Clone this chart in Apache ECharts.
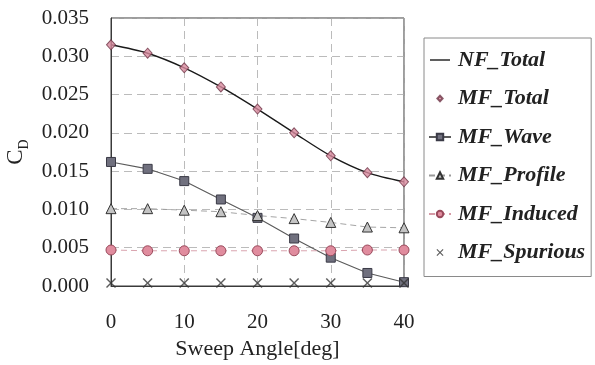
<!DOCTYPE html>
<html>
<head>
<meta charset="utf-8">
<script src="https://cdn.jsdelivr.net/npm/echarts@6/dist/echarts.min.js"></script>
<style>
html,body{margin:0;padding:0;background:#fff;}
#c{width:595px;height:365px;}
</style>
</head>
<body>
<div id="c"></div>
<script>
var sweep = [0, 5, 10, 15, 20, 25, 30, 35, 40];
var nfTotal = [0.0315, 0.0304, 0.0285, 0.0260, 0.0231, 0.0200, 0.0170, 0.0148, 0.0136];
var mfTotal = [0.0315, 0.0304, 0.0285, 0.0260, 0.0231, 0.0200, 0.0170, 0.0148, 0.0136];
var mfWave = [0.0162, 0.0153, 0.0137, 0.0113, 0.0089, 0.0062, 0.0037, 0.0017, 0.0005];
var mfProfile = [0.0101, 0.0101, 0.0099, 0.0097, 0.0092, 0.0088, 0.0083, 0.0077, 0.0076];
var mfInduced = [0.0047, 0.0046, 0.0046, 0.0046, 0.0046, 0.0046, 0.0046, 0.0047, 0.0047];
var mfSpurious = [0.0004, 0.0004, 0.0004, 0.0004, 0.0004, 0.0004, 0.0004, 0.0004, 0.0004];
var seriesNames = ['NF_Total', 'MF_Total', 'MF_Wave', 'MF_Profile', 'MF_Induced', 'MF_Spurious'];
var xTicks = [0, 10, 20, 30, 40];
var yTicks = [0.000, 0.005, 0.010, 0.015, 0.020, 0.025, 0.030, 0.035];

function pairs(ys) { return sweep.map(function (x, i) { return [x, ys[i]]; }); }

var FONT = 'Liberation Serif';
var crossPath = 'path://M0,1 L1,0 L5,4 L9,0 L10,1 L6,5 L10,9 L9,10 L5,6 L1,10 L0,9 L4,5 Z';
// legend icons: a 22x8 box fixed by two moveTo corner points
var BOX = 'M0,0 M22,8 ';
var iconLine = 'path://' + BOX + 'M1,3.3 L21,3.3 L21,4.7 L1,4.7 Z';
var iconDiamond = 'path://' + BOX + 'M11,1.2 L13.6,4 L11,6.8 L8.4,4 Z';
var iconCross = 'path://' + BOX + 'M7.5,1.3 L8.3,0.5 L11,3.2 L13.7,0.5 L14.5,1.3 L11.8,4 L14.5,6.7 L13.7,7.5 L11,4.8 L8.3,7.5 L7.5,6.7 L10.2,4 Z';

var chart = echarts.init(document.getElementById('c'), null, { renderer: 'canvas' });
chart.setOption({
  backgroundColor: '#ffffff',
  animation: false,
  textStyle: { fontFamily: FONT },
  grid: { left: 111, right: 191, top: 18, bottom: 79, show: true, borderColor: '#3a3a3a', borderWidth: 1,
    backgroundColor: 'transparent', outerBoundsMode: 'none', containLabel: false },
  legend: {
    orient: 'vertical',
    left: 424, top: 38,
    width: 170,
    padding: [11, 6, 13, 4],
    itemGap: 16.5,
    itemWidth: 22, itemHeight: 8,
    borderColor: '#8a8a8a', borderWidth: 1,
    data: [
      { name: seriesNames[0], icon: iconLine },
      { name: seriesNames[1], icon: iconDiamond },
      { name: seriesNames[2] },
      { name: seriesNames[3] },
      { name: seriesNames[4] },
      { name: seriesNames[5], icon: iconCross }
    ],
    textStyle: { fontFamily: FONT, fontSize: 22, fontWeight: 'bold', fontStyle: 'italic', color: '#222', padding: [0, 0, 0, 2] }
  },
  xAxis: {
    type: 'value', min: xTicks[0], max: xTicks[xTicks.length - 1], interval: 10,
    name: 'Sweep Angle[deg]', nameLocation: 'middle', nameGap: 52,
    nameTextStyle: { fontFamily: FONT, fontSize: 22, color: '#222' },
    axisLine: { lineStyle: { color: '#3a3a3a', width: 1 } },
    axisTick: { show: false },
    axisLabel: { fontFamily: FONT, fontSize: 21, color: '#222', margin: 26 },
    splitLine: { show: true, lineStyle: { color: '#aaaaaa', type: [8, 5], width: 0.8 } }
  },
  yAxis: {
    type: 'value', min: yTicks[0], max: yTicks[yTicks.length - 1], interval: 0.005,
    name: '{c|C}{d|D}', nameLocation: 'middle', nameGap: 84,
    nameTextStyle: {
      fontFamily: FONT, color: '#222',
      rich: {
        c: { fontFamily: FONT, fontSize: 23, color: '#222', lineHeight: 28, verticalAlign: 'bottom' },
        d: { fontFamily: FONT, fontSize: 14, color: '#222', lineHeight: 28, verticalAlign: 'bottom', padding: [0, 0, -4, 0] }
      }
    },
    axisLine: { lineStyle: { color: '#3a3a3a', width: 1 } },
    axisTick: { show: false },
    axisLabel: { fontFamily: FONT, fontSize: 21, color: '#222', margin: 22, formatter: function (v) { return v.toFixed(3); } },
    splitLine: { show: true, lineStyle: { color: '#aaaaaa', type: [8, 5], width: 0.8 } }
  },
  series: [
    { name: 'NF_Total', type: 'line', data: pairs(nfTotal), smooth: 0.3, showSymbol: false, symbol: 'none',
      lineStyle: { color: '#1a1a1a', width: 1.4 }, itemStyle: { color: '#1a1a1a' }, z: 3 },
    { name: 'MF_Total', type: 'scatter', data: pairs(mfTotal), symbol: 'diamond', symbolSize: [9, 10],
      itemStyle: { color: '#d88a9e', borderColor: '#6e3446', borderWidth: 1 }, z: 5 },
    { name: 'MF_Wave', type: 'line', data: pairs(mfWave), symbol: 'rect', symbolSize: 9,
      lineStyle: { color: '#5a5a5a', width: 1.1 }, itemStyle: { color: '#70707e', borderColor: '#3a3a46', borderWidth: 1 }, z: 4 },
    { name: 'MF_Profile', type: 'line', data: pairs(mfProfile), symbol: 'triangle', symbolSize: 10,
      lineStyle: { color: '#9a9a9a', width: 0.9, type: [6, 4] }, itemStyle: { color: '#c4c4c4', borderColor: '#333', borderWidth: 1 }, z: 4 },
    { name: 'MF_Induced', type: 'line', data: pairs(mfInduced), symbol: 'circle', symbolSize: 10,
      lineStyle: { color: '#d59aa6', width: 0.9, type: [6, 4] }, itemStyle: { color: '#e08c9e', borderColor: '#9a4a5c', borderWidth: 1 }, z: 4 },
    { name: 'MF_Spurious', type: 'scatter', data: pairs(mfSpurious), symbol: crossPath, symbolSize: 10,
      itemStyle: { color: '#333' }, z: 5 }
  ]
});
</script>
</body>
</html>
